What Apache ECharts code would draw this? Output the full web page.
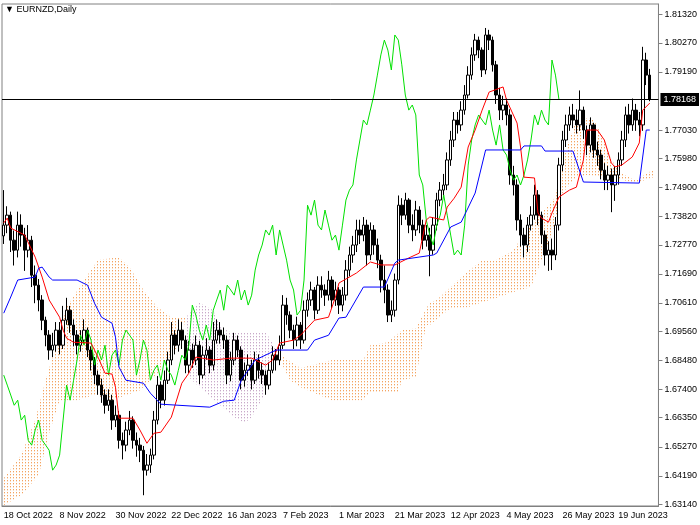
<!DOCTYPE html>
<html><head><meta charset="utf-8">
<script src="https://cdn.jsdelivr.net/npm/echarts@6/dist/echarts.min.js"></script>
<style>html,body{margin:0;padding:0;background:#fff}#c{width:700px;height:525px}</style>
</head><body><div id="c"></div>
<script>
const dateLabels=["18 Oct 2022","8 Nov 2022","30 Nov 2022","22 Dec 2022","16 Jan 2023","7 Feb 2023","1 Mar 2023","21 Mar 2023","12 Apr 2023","4 May 2023","26 May 2023","19 Jun 2023"];
const priceTicks=[1.6314,1.6419,1.6527,1.6635,1.6740,1.6848,1.6956,1.7061,1.7169,1.7277,1.7382,1.7490,1.7598,1.7703,1.7919,1.8027,1.8132];
const lastPrice=1.78168;
const closes=[1.7350,1.7387,1.7294,1.7257,1.7350,1.7313,1.7257,1.7294,1.7164,1.7127,1.7072,1.6997,1.6942,1.6886,1.6904,1.6960,1.6904,1.6997,1.7034,1.6979,
1.6942,1.6904,1.6923,1.6960,1.6886,1.6849,1.6793,1.6756,1.6719,1.6681,1.6700,1.6626,1.6644,1.6551,1.6533,1.6589,1.6626,1.6551,1.6533,1.6514,
1.6440,1.6459,1.6496,1.6626,1.6756,1.6700,1.6774,1.6849,1.6942,1.6904,1.6960,1.6923,1.6830,1.6886,1.6849,1.6904,1.6793,1.6867,1.6886,1.6830,
1.6923,1.6960,1.6942,1.6923,1.6793,1.6849,1.6923,1.6886,1.6774,1.6811,1.6830,1.6774,1.6849,1.6811,1.6793,1.6756,1.6811,1.6867,1.6849,1.6904,
1.7053,1.7016,1.6960,1.6923,1.6979,1.6923,1.7034,1.7072,1.7109,1.7034,1.7127,1.7109,1.7090,1.7146,1.7072,1.7109,1.7053,1.7090,1.7183,1.7239,
1.7276,1.7332,1.7313,1.7350,1.7239,1.7332,1.7276,1.7220,1.7146,1.7109,1.7016,1.7034,1.7146,1.7424,1.7387,1.7443,1.7350,1.7332,1.7406,1.7350,
1.7294,1.7313,1.7257,1.7350,1.7443,1.7480,1.7499,1.7592,1.7666,1.7740,1.7722,1.7777,1.7833,1.7907,1.7982,1.8037,1.8000,1.7926,1.8056,1.8037,
1.7945,1.7833,1.7777,1.7796,1.7759,1.7536,1.7499,1.7369,1.7313,1.7276,1.7350,1.7387,1.7462,1.7387,1.7313,1.7239,1.7257,1.7239,1.7350,1.7573,
1.7666,1.7722,1.7759,1.7740,1.7722,1.7777,1.7703,1.7647,1.7722,1.7629,1.7610,1.7554,1.7517,1.7536,1.7499,1.7536,1.7592,1.7666,1.7759,1.7722,
1.7777,1.7740,1.7722,1.7963,1.7907,1.78168];
const opens=[1.7310,1.7350,1.7387,1.7294,1.7257,1.7350,1.7313,1.7257,1.7294,1.7164,1.7127,1.7072,1.6997,1.6942,1.6886,1.6904,1.6960,1.6904,1.6997,1.7034,
1.6979,1.6942,1.6904,1.6923,1.6960,1.6886,1.6849,1.6793,1.6756,1.6719,1.6681,1.6700,1.6626,1.6644,1.6551,1.6533,1.6589,1.6626,1.6551,1.6533,
1.6514,1.6440,1.6459,1.6496,1.6626,1.6756,1.6700,1.6774,1.6849,1.6942,1.6904,1.6960,1.6923,1.6830,1.6886,1.6849,1.6904,1.6793,1.6867,1.6886,
1.6830,1.6923,1.6960,1.6942,1.6923,1.6793,1.6849,1.6923,1.6886,1.6774,1.6811,1.6830,1.6774,1.6849,1.6811,1.6793,1.6756,1.6811,1.6867,1.6849,
1.6904,1.7053,1.7016,1.6960,1.6923,1.6979,1.6923,1.7034,1.7072,1.7109,1.7034,1.7127,1.7109,1.7090,1.7146,1.7072,1.7109,1.7053,1.7090,1.7183,
1.7239,1.7276,1.7332,1.7313,1.7350,1.7239,1.7332,1.7276,1.7220,1.7146,1.7109,1.7016,1.7034,1.7146,1.7424,1.7387,1.7443,1.7350,1.7332,1.7406,
1.7350,1.7294,1.7313,1.7257,1.7350,1.7443,1.7480,1.7499,1.7592,1.7666,1.7740,1.7722,1.7777,1.7833,1.7907,1.7982,1.8037,1.8000,1.7926,1.8056,
1.8037,1.7945,1.7833,1.7777,1.7796,1.7759,1.7536,1.7499,1.7369,1.7313,1.7276,1.7350,1.7387,1.7462,1.7387,1.7313,1.7239,1.7257,1.7239,1.7350,
1.7573,1.7666,1.7722,1.7759,1.7740,1.7722,1.7777,1.7703,1.7647,1.7722,1.7629,1.7610,1.7554,1.7517,1.7536,1.7499,1.7536,1.7592,1.7666,1.7759,
1.7722,1.7777,1.7740,1.7722,1.7963,1.7907];
const highs=[1.7480,1.7420,1.7400,1.7330,1.7400,1.7390,1.7340,1.7350,1.7310,1.7200,1.7150,1.7090,1.7010,1.6960,1.6950,1.6990,1.6990,1.7050,1.7080,1.7050,
1.7000,1.6960,1.6960,1.7000,1.6970,1.6900,1.6860,1.6810,1.6780,1.6740,1.6740,1.6720,1.6680,1.6660,1.6580,1.6620,1.6660,1.6640,1.6580,1.6560,
1.6530,1.6500,1.6520,1.6660,1.6790,1.6770,1.6810,1.6880,1.6990,1.6960,1.7000,1.6990,1.6940,1.6920,1.6910,1.6940,1.6920,1.6900,1.6930,1.6900,
1.6990,1.7000,1.6990,1.6970,1.6940,1.6880,1.6950,1.6940,1.6900,1.6840,1.6870,1.6850,1.6880,1.6870,1.6840,1.6810,1.6840,1.6900,1.6890,1.6940,
1.7090,1.7080,1.7030,1.6980,1.7010,1.6990,1.7070,1.7100,1.7140,1.7120,1.7160,1.7160,1.7130,1.7180,1.7160,1.7140,1.7120,1.7120,1.7220,1.7270,
1.7310,1.7370,1.7370,1.7380,1.7370,1.7360,1.7350,1.7300,1.7240,1.7200,1.7130,1.7070,1.7170,1.7460,1.7450,1.7470,1.7450,1.7390,1.7440,1.7420,
1.7370,1.7350,1.7340,1.7380,1.7470,1.7510,1.7540,1.7620,1.7700,1.7770,1.7770,1.7810,1.7870,1.7940,1.8010,1.8060,1.8050,1.8010,1.8082,1.8075,
1.8050,1.7960,1.7860,1.7830,1.7820,1.7780,1.7570,1.7520,1.7390,1.7340,1.7380,1.7420,1.7500,1.7480,1.7400,1.7330,1.7290,1.7300,1.7380,1.7600,
1.7700,1.7760,1.7790,1.7800,1.7780,1.7850,1.7790,1.7720,1.7750,1.7730,1.7660,1.7630,1.7580,1.7570,1.7560,1.7570,1.7620,1.7700,1.7790,1.7800,
1.7820,1.7800,1.7770,1.8012,1.7990,1.7930];
const lows=[1.7280,1.7320,1.7250,1.7200,1.7230,1.7270,1.7180,1.7230,1.7120,1.7060,1.7030,1.6960,1.6900,1.6850,1.6860,1.6880,1.6870,1.6890,1.6980,1.6950,
1.6900,1.6870,1.6880,1.6910,1.6860,1.6810,1.6760,1.6720,1.6690,1.6650,1.6660,1.6590,1.6600,1.6520,1.6480,1.6510,1.6570,1.6520,1.6490,1.6470,
1.6347,1.6420,1.6430,1.6480,1.6610,1.6670,1.6680,1.6760,1.6830,1.6870,1.6880,1.6890,1.6800,1.6800,1.6820,1.6830,1.6760,1.6780,1.6850,1.6800,
1.6810,1.6910,1.6910,1.6890,1.6760,1.6770,1.6830,1.6860,1.6740,1.6750,1.6790,1.6740,1.6760,1.6780,1.6760,1.6720,1.6740,1.6800,1.6810,1.6830,
1.6890,1.6980,1.6930,1.6890,1.6900,1.6890,1.6910,1.7010,1.7050,1.7000,1.7020,1.7080,1.7050,1.7070,1.7040,1.7050,1.7020,1.7030,1.7070,1.7160,
1.7210,1.7250,1.7280,1.7290,1.7200,1.7220,1.7240,1.7190,1.7100,1.7060,1.6990,1.6990,1.7010,1.7130,1.7350,1.7370,1.7320,1.7290,1.7310,1.7320,
1.7260,1.7270,1.7160,1.7240,1.7330,1.7420,1.7460,1.7480,1.7570,1.7640,1.7690,1.7700,1.7760,1.7820,1.7890,1.7960,1.7970,1.7900,1.7910,1.8000,
1.7920,1.7800,1.7740,1.7740,1.7720,1.7500,1.7460,1.7330,1.7270,1.7230,1.7250,1.7330,1.7370,1.7350,1.7280,1.7200,1.7180,1.7183,1.7220,1.7330,
1.7550,1.7640,1.7700,1.7710,1.7690,1.7700,1.7670,1.7610,1.7620,1.7600,1.7570,1.7520,1.7480,1.7480,1.7398,1.7440,1.7500,1.7570,1.7640,1.7690,
1.7700,1.7700,1.7680,1.7700,1.7870,1.7810];
const tenkan=[[0,1.7358],[1,1.7376],[2,1.7339],[6,1.7313],[9,1.7231],[11,1.7157],[13,1.7072],[16,1.7008],[17,1.6960],[18,1.6930],[20,1.6915],[25,1.6912],[27,1.6860],[29,1.6800],[31,1.6797],[32,1.6748],[33,1.6633],[37,1.6633],[39,1.6589],[41,1.6540],[43,1.6577],[45,1.6581],[48,1.6637],[51,1.6763],[53,1.6800],[55,1.6860],[60,1.6849],[65,1.6856],[71,1.6856],[75,1.6830],[77,1.6849],[79,1.6912],[83,1.6923],[85,1.6941],[89,1.6997],[93,1.7008],[95,1.7083],[96,1.7135],[101,1.7172],[105,1.7213],[108,1.7202],[112,1.7202],[116,1.7228],[119,1.7246],[121,1.7369],[122,1.7380],[126,1.7369],[127,1.7417],[129,1.7450],[131,1.7491],[133,1.7640],[135,1.7703],[137,1.7777],[139,1.7844],[143,1.7863],[144,1.7814],[147,1.7729],[148,1.7640],[149,1.7528],[152,1.7525],[153,1.7395],[154,1.7376],[156,1.7361],[157,1.7395],[159,1.7454],[162,1.7480],[164,1.7491],[166,1.7592],[167,1.7703],[170,1.7703],[172,1.7666],[174,1.7581],[175,1.7566],[177,1.7573],[180,1.7603],[182,1.7655],[183,1.7777],[185,1.7803]];
const kijun=[[0,1.7023],[2,1.7083],[4,1.7146],[9,1.7157],[10,1.7190],[11,1.7194],[13,1.7157],[14,1.7146],[21,1.7146],[24,1.7127],[26,1.7060],[28,1.7008],[31,1.6986],[32,1.6934],[33,1.6823],[35,1.6774],[40,1.6763],[42,1.6726],[45,1.6685],[59,1.6674],[63,1.6696],[66,1.6700],[68,1.6774],[70,1.6811],[72,1.6849],[78,1.6886],[87,1.6886],[89,1.6923],[93,1.6941],[96,1.7005],[98,1.7008],[103,1.7120],[109,1.7120],[112,1.7209],[113,1.7220],[123,1.7239],[124,1.7246],[128,1.7343],[131,1.7361],[135,1.7469],[138,1.7629],[148,1.7629],[149,1.7644],[154,1.7644],[155,1.7625],[163,1.7625],[166,1.7510],[182,1.7506],[184,1.7703],[185,1.7703]];
const cloud1Upper=[[0,1.6410],[5,1.6496],[9,1.6626],[12,1.6774],[15,1.6904],[18,1.7045],[23,1.7146],[27,1.7220],[33,1.7231],[36,1.7194],[40,1.7109],[44,1.7045],[48,1.7008],[52,1.7005]];
const cloud1Lower=[[0,1.6310],[5,1.6347],[10,1.6421],[13,1.6577],[16,1.6700],[21,1.6700],[26,1.6719],[31,1.6700],[39,1.6737],[45,1.6811],[51,1.6923],[52,1.7005]];
const cloudPinkUpper=[[52,1.7005],[56,1.7064],[60,1.7034],[62,1.6971],[65,1.6953],[75,1.6953],[77,1.6912],[78,1.6878]];
const cloudPinkLower=[[52,1.7005],[53,1.6785],[58,1.6726],[66,1.6637],[69,1.6615],[71,1.6637],[75,1.6726],[78,1.6878]];
const cloud2Upper=[[78,1.6878],[85,1.6819],[94,1.6849],[103,1.6849],[105,1.6904],[110,1.6915],[114,1.6960],[118,1.6967],[122,1.7064],[124,1.7072],[128,1.7120],[131,1.7157],[137,1.7220],[141,1.7220],[146,1.7257],[149,1.7320],[154,1.7395],[158,1.7454],[160,1.7592],[164,1.7740],[167,1.7748],[169,1.7740],[172,1.7666],[174,1.7592],[177,1.7543],[181,1.7517],[184,1.7543],[186,1.7554]];
const cloud2Lower=[[78,1.6878],[82,1.6774],[85,1.6748],[94,1.6700],[103,1.6700],[105,1.6730],[113,1.6730],[114,1.6774],[118,1.6785],[121,1.6979],[122,1.6979],[128,1.7042],[133,1.7045],[137,1.7064],[141,1.7079],[145,1.7098],[151,1.7120],[157,1.7320],[160,1.7469],[164,1.7528],[167,1.7536],[174,1.7528],[181,1.7506],[186,1.7528]];
const CHIKOU_SHIFT=26, NCAT=188;

function dotPattern(color){const c=document.createElement('canvas');c.width=3;c.height=3;const g=c.getContext('2d');g.fillStyle=color;g.fillRect(1,0,1,1);g.globalAlpha=0.35;g.fillRect(1,1,1,1);return {image:c,repeat:'repeat'};}
const cats=Array.from({length:NCAT},(_,i)=>String(i));
const candle=closes.map((c,i)=>[opens[i],c,lows[i],highs[i]]);
const chikou=closes.slice(CHIKOU_SHIFT).map((v,j)=>[j,v]);
function cloudSeries(up,lo,color){return {type:'custom',data:[0],z:1,silent:true,renderItem:(p,api)=>{const pts=up.map(q=>api.coord(q)).concat(lo.slice().reverse().map(q=>api.coord(q)));return {type:'polygon',shape:{points:pts},style:{fill:dotPattern(color),stroke:null}};}};}
const font='"Liberation Sans", Arial, sans-serif';
const chart=echarts.init(document.getElementById('c'),null,{renderer:'canvas'});
chart.setOption({animation:false,
 grid:{left:2,top:4,width:658,height:502,show:true,borderColor:'#808080',borderWidth:1},
 graphic:[{type:'text',left:5,top:5,style:{text:'▼ EURNZD,Daily',font:'9px '+font,fill:'#000'}}],
 xAxis:{type:'category',data:cats,boundaryGap:true,axisLine:{lineStyle:{color:'#808080'}},
  axisTick:{interval:(i)=>i%16===0,length:4,lineStyle:{color:'#808080'},alignWithLabel:true},
  axisLabel:{interval:(i)=>i%16===0,formatter:(v,i)=>dateLabels[i/16]||'',align:'left',margin:5,fontSize:9,fontFamily:font,color:'#000'},splitLine:{show:false}},
 yAxis:{type:'value',position:'right',min:1.6307,max:1.8171,axisLine:{show:true,lineStyle:{color:'#808080'}},
  axisTick:{show:true,length:4,customValues:priceTicks,lineStyle:{color:'#808080'}},
  axisLabel:{customValues:priceTicks,formatter:v=>v.toFixed(5),fontSize:9,fontFamily:font,color:'#000',margin:6},splitLine:{show:false}},
 series:[
  cloudSeries(cloud1Upper,cloud1Lower,'#F4A460'),
  cloudSeries(cloudPinkUpper,cloudPinkLower,'#C8A8C8'),
  cloudSeries(cloud2Upper,cloud2Lower,'#F4A460'),
  {type:'candlestick',data:candle,z:3,barWidth:3,itemStyle:{color:'#fff',color0:'#000',borderColor:'#000',borderColor0:'#000',borderWidth:1}},
  {type:'line',data:chikou,z:4,symbol:'none',lineStyle:{color:'#00E000',width:1}},
  {type:'line',data:tenkan,z:4,symbol:'none',lineStyle:{color:'#FF0000',width:1}},
  {type:'line',data:kijun,z:4,symbol:'none',lineStyle:{color:'#0000FF',width:1},
   markLine:{silent:true,symbol:'none',precision:5,data:[{yAxis:lastPrice}],lineStyle:{color:'#000',width:1,type:'solid'},
    label:{position:'end',formatter:lastPrice.toFixed(5),backgroundColor:'#000',color:'#fff',fontSize:9,fontFamily:font,padding:[2,3],distance:2}}}
 ]});
</script></body></html>
